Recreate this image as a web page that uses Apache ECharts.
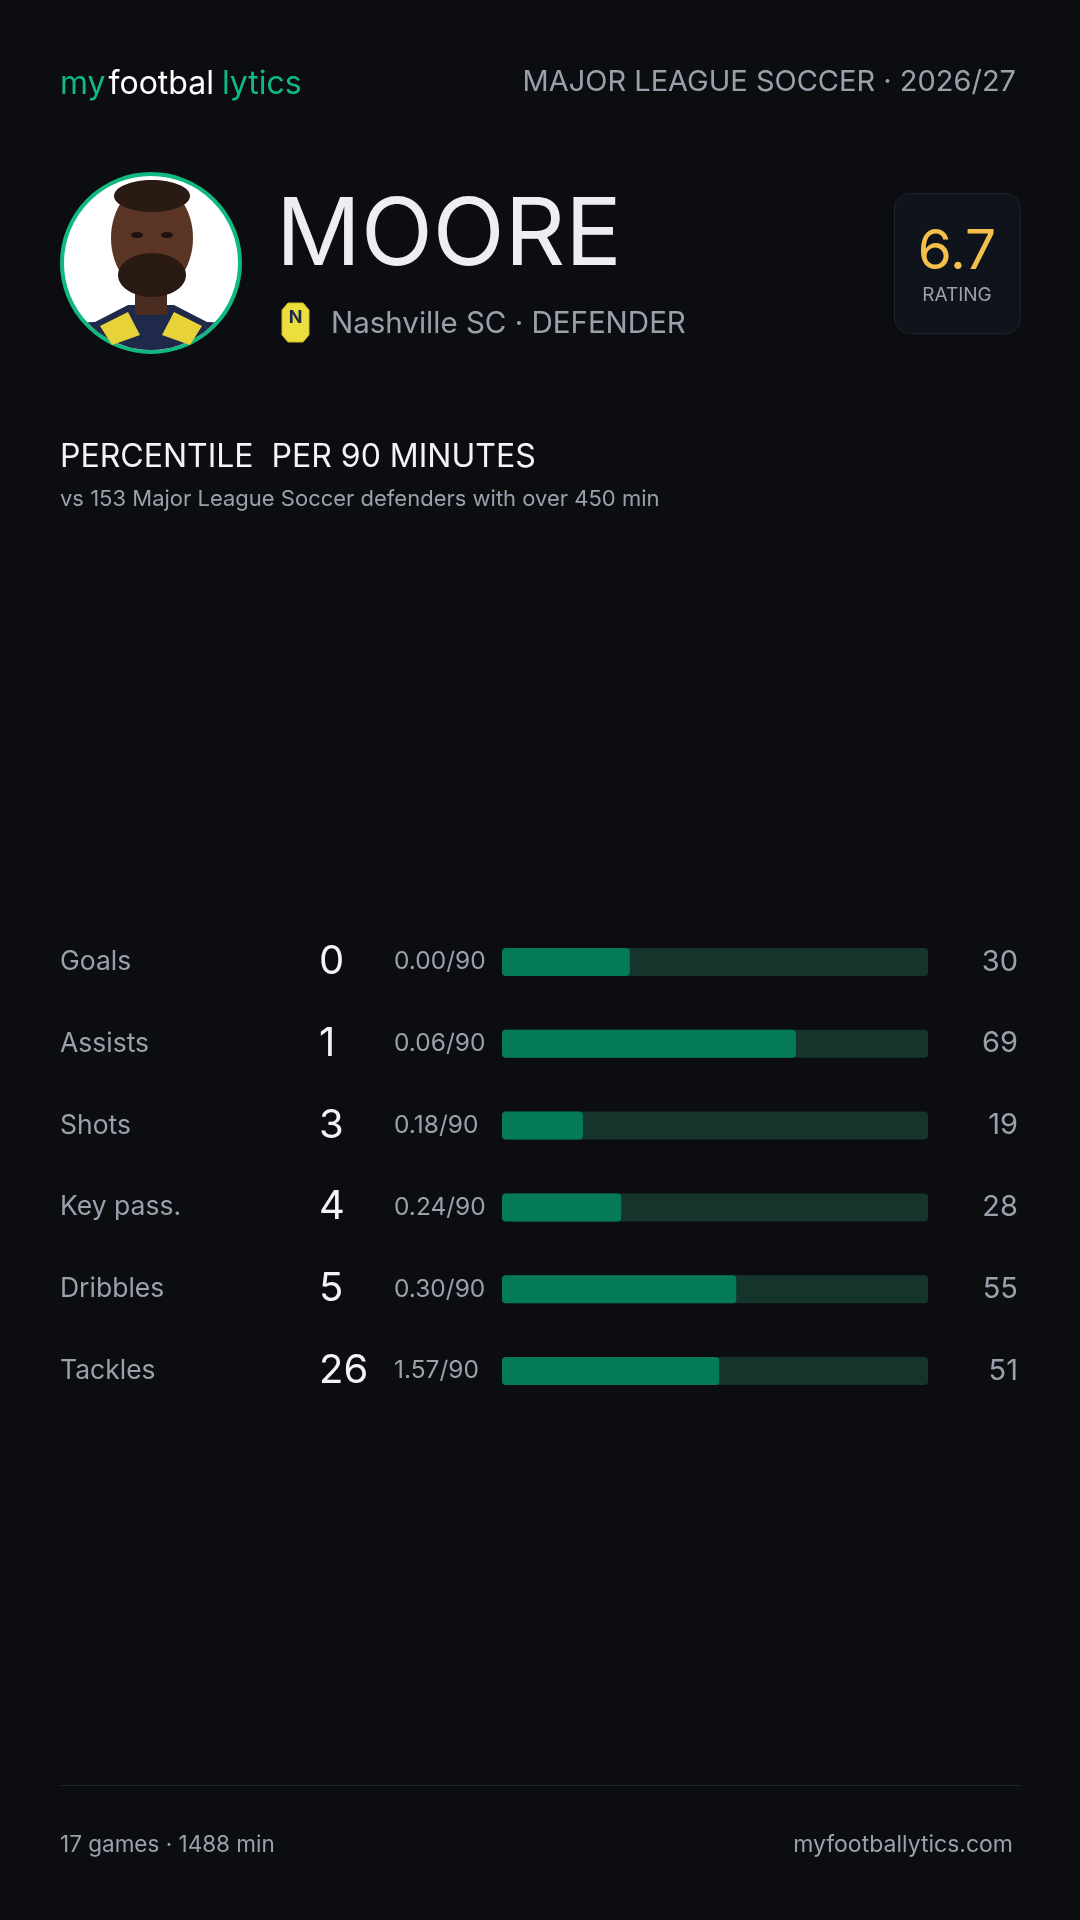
<!DOCTYPE html>
<html>
<head>
<meta charset="utf-8">
<title>Moore - percentile per 90</title>
<script src="https://cdn.jsdelivr.net/npm/echarts@6/dist/echarts.min.js"></script>
<style>
  html, body { margin: 0; padding: 0; background: #0b0d11; }
  #main { width: 1080px; height: 1920px; }
</style>
</head>
<body>
<div id="main"></div>
<script>
"use strict";
// stat rows, top to bottom
let categories = ['Goals', 'Assists', 'Shots', 'Key pass.', 'Dribbles', 'Tackles'];
let totals = [0, 1, 3, 4, 5, 26];
let per90 = ['0.00', '0.06', '0.18', '0.24', '0.30', '1.57'];
let percentiles = [30, 69, 19, 28, 55, 51];

let playerName = 'MOORE';
let club = 'Nashville SC · DEFENDER';
let rating = '6.7';
let league = 'MAJOR LEAGUE SOCCER · 2026/27';
let footerLeft = '17 games · 1488 min';
let footerRight = 'myfootballytics.com';

const FONT = 'Inter, "Noto Sans", sans-serif';
const GREY = '#9aa1ad';
const WHITE = '#eceef2';
const GREEN = '#10b981';

let myChart = echarts.init(document.getElementById('main'));

// points along the lower part of the avatar circle, for the shirt shape
function arcPoints(cx, cy, r, a0, a1, n) {
    let pts = [];
    for (let i = 0; i <= n; i++) {
        let a = a0 + (a1 - a0) * i / n;
        pts.push([cx + r * Math.cos(a), cy + r * Math.sin(a)]);
    }
    return pts;
}

let cx = 151, cy = 263, r = 87;
let shirt = [[95, 322], [128, 305], [174, 305], [207, 322]].concat(arcPoints(cx, cy, r, 0.75, Math.PI - 0.75, 20));

let option = {
    backgroundColor: '#0b0d11',
    textStyle: { fontFamily: FONT },
    graphic: [
        // header
        {
            type: 'text', left: 60, top: 68,
            style: {
                text: '{g|my}{w|footbal}{g|lytics}',
                rich: {
                    g: { fill: GREEN, fontSize: 32, fontFamily: FONT },
                    w: { fill: '#ffffff', fontSize: 32, fontFamily: FONT, padding: [0, 8, 0, 3] }
                }
            }
        },
        {
            type: 'text', right: 64, top: 68,
            style: { text: league, fill: GREY, fontSize: 29, fontFamily: FONT }
        },
        // avatar
        { type: 'circle', shape: { cx: cx, cy: cy, r: 89 }, style: { fill: '#ffffff', stroke: GREEN, lineWidth: 4 } },
        { type: 'polygon', shape: { points: shirt }, style: { fill: '#1f2a4a' } },
        { type: 'polygon', shape: { points: [[100, 326], [128, 312], [140, 335], [112, 345]] }, style: { fill: '#e8d23a' } },
        { type: 'polygon', shape: { points: [[202, 326], [174, 312], [162, 335], [190, 345]] }, style: { fill: '#e8d23a' } },
        { type: 'rect', shape: { x: 135, y: 280, width: 32, height: 35 }, style: { fill: '#4a2c20' } },
        { type: 'ellipse', shape: { cx: 152, cy: 238, rx: 41, ry: 54 }, style: { fill: '#5a3424' } },
        { type: 'ellipse', shape: { cx: 152, cy: 275, rx: 34, ry: 22 }, style: { fill: '#2a1a14' } },
        { type: 'ellipse', shape: { cx: 152, cy: 196, rx: 38, ry: 16 }, style: { fill: '#2a1a14' } },
        { type: 'ellipse', shape: { cx: 137, cy: 235, rx: 6, ry: 3 }, style: { fill: '#1c120e' } },
        { type: 'ellipse', shape: { cx: 167, cy: 235, rx: 6, ry: 3 }, style: { fill: '#1c120e' } },
        // name + club
        {
            type: 'text', left: 276, top: 190,
            style: { text: playerName, fill: WHITE, fontSize: 94, fontFamily: FONT }
        },
        {
            type: 'polygon',
            shape: { points: [[288, 303], [303, 303], [309, 310], [309, 335], [303, 342], [288, 342], [282, 335], [282, 310]] },
            style: { fill: '#ecdf3c', stroke: '#c9b92a', lineWidth: 1 }
        },
        { type: 'text', x: 295.5, y: 318, style: { text: 'N', fill: '#1f2a4a', fontSize: 18, fontWeight: 'bold', align: 'center', verticalAlign: 'middle', fontFamily: FONT } },
        {
            type: 'text', left: 331, top: 309,
            style: { text: club, fill: GREY, fontSize: 29.5, fontFamily: FONT }
        },
        // rating card
        {
            type: 'rect', shape: { x: 894.5, y: 193.5, width: 126, height: 140, r: 15 },
            style: { fill: '#0f131b', stroke: '#1d222d', lineWidth: 1 }
        },
        { type: 'text', x: 957, y: 252, style: { text: rating, fill: '#f5c04a', fontSize: 55, align: 'center', verticalAlign: 'middle', fontFamily: FONT } },
        { type: 'text', x: 957, y: 295, style: { text: 'RATING', fill: GREY, fontSize: 19, align: 'center', verticalAlign: 'middle', fontFamily: FONT } },
        // section title
        {
            type: 'text', left: 60, top: 441,
            style: { text: 'PERCENTILE  PER 90 MINUTES', fill: '#f3f4f6', fontSize: 32, fontFamily: FONT }
        },
        {
            type: 'text', left: 60, top: 488,
            style: { text: 'vs 153 Major League Soccer defenders with over 450 min', fill: GREY, fontSize: 22, fontFamily: FONT }
        },
        // footer
        { type: 'rect', shape: { x: 60, y: 1785, width: 961, height: 1 }, style: { fill: '#1f2230' } },
        { type: 'text', left: 60, top: 1834, style: { text: footerLeft, fill: GREY, fontSize: 22.5, fontFamily: FONT } },
        { type: 'text', right: 67, top: 1834, style: { text: footerRight, fill: GREY, fontSize: 23, fontFamily: FONT } }
    ],
    grid: { left: 502, right: 152, top: 921, height: 491 },
    xAxis: { type: 'value', min: 0, max: 100, show: false },
    yAxis: [
        {
            type: 'category',
            data: categories,
            inverse: true,
            axisLine: { show: false },
            axisTick: { show: false },
            axisLabel: {
                align: 'left',
                margin: 442,
                formatter: function (value, index) {
                    return '{n|' + value + '}{c|' + totals[index] + '}{p|' + per90[index] + '/90}';
                },
                rich: {
                    n: { width: 259, fontSize: 26.5, color: GREY, fontFamily: FONT, verticalAlign: 'middle' },
                    c: { width: 75, fontSize: 40, color: '#f3f4f6', fontFamily: FONT, verticalAlign: 'middle' },
                    p: { fontSize: 24.5, color: GREY, fontFamily: FONT, verticalAlign: 'middle' }
                }
            }
        },
        {
            type: 'category',
            position: 'right',
            data: percentiles.map(String),
            inverse: true,
            axisLine: { show: false },
            axisTick: { show: false },
            axisLabel: { align: 'right', margin: 90, fontSize: 29, color: GREY, fontFamily: FONT }
        }
    ],
    series: [{
        type: 'bar',
        data: percentiles,
        barWidth: 28,
        itemStyle: { color: '#057a58', borderRadius: 4 },
        showBackground: true,
        backgroundStyle: { color: '#15342b', borderRadius: 4 },
        silent: true,
        animation: false
    }]
};
myChart.setOption(option);
</script>
</body>
</html>
